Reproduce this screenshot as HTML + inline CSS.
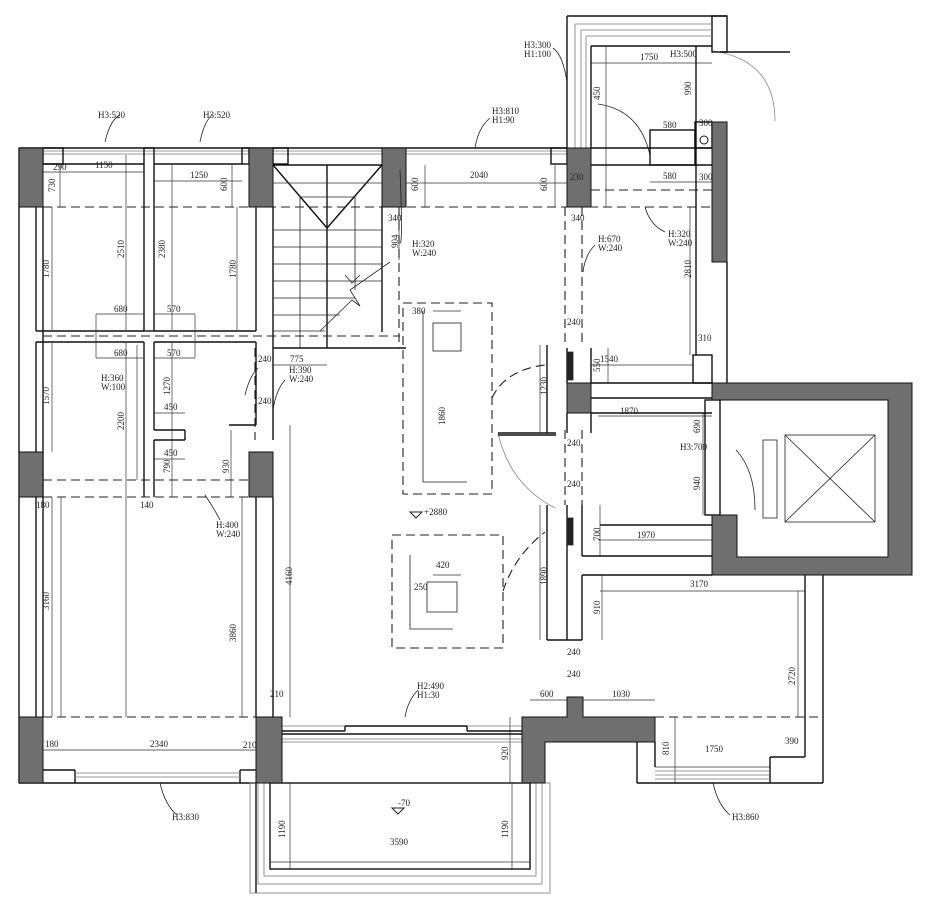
<!DOCTYPE html>
<html><head><meta charset="utf-8"><style>
html,body{margin:0;padding:0;background:#fff;}
svg{display:block;}
text{font-family:"Liberation Serif",serif;font-size:9px;fill:#222;}
.w{fill:none;stroke:#111;stroke-width:1.4}
.t{fill:none;stroke:#222;stroke-width:0.8}
.m{fill:none;stroke:#333;stroke-width:0.7}
.g{fill:none;stroke:#777;stroke-width:0.8}
.d{fill:none;stroke:#222;stroke-width:1.1;stroke-dasharray:9,5}
.c{fill:#6f6f6f;stroke:#111;stroke-width:1}
</style></head><body>
<svg width="930" height="909" viewBox="0 0 930 909" xmlns="http://www.w3.org/2000/svg">
<g class="g">
<line x1="43" y1="148" x2="567" y2="148"/><line x1="43" y1="151" x2="567" y2="151"/><line x1="43" y1="154" x2="567" y2="154"/>
</g>
<g class="w">
<line x1="19" y1="148" x2="19" y2="783"/>
<line x1="43" y1="207" x2="43" y2="717"/>
<line x1="19" y1="148" x2="567" y2="148"/>
<rect x="43" y="148" width="20" height="16"/>
<rect x="144" y="148" width="10" height="183"/>
<rect x="242" y="148" width="7" height="16"/>
<rect x="273" y="148" width="15" height="16"/>
<rect x="551" y="148" width="16" height="16"/>
<line x1="43" y1="164" x2="144" y2="164"/><line x1="154" y1="164" x2="242" y2="164"/>
<line x1="36" y1="207" x2="36" y2="331"/><line x1="144" y1="331" x2="36" y2="331"/>
<line x1="154" y1="331" x2="256" y2="331"/><line x1="256" y1="207" x2="256" y2="331"/>
<line x1="36" y1="342" x2="144" y2="342"/><line x1="154" y1="342" x2="256" y2="342"/>
<line x1="36" y1="342" x2="36" y2="452"/>
<line x1="144" y1="342" x2="144" y2="497"/><line x1="154" y1="342" x2="154" y2="430"/>
<line x1="154" y1="430" x2="185" y2="430"/><line x1="185" y1="430" x2="185" y2="440"/><line x1="154" y1="440" x2="185" y2="440"/>
<line x1="154" y1="440" x2="154" y2="497"/>
<line x1="256" y1="342" x2="256" y2="425"/><line x1="256" y1="425" x2="229" y2="425"/>
<line x1="273" y1="207" x2="273" y2="440"/>
<line x1="273" y1="497" x2="273" y2="717"/><line x1="256" y1="497" x2="256" y2="717"/>
<line x1="36" y1="497" x2="36" y2="717"/>
<line x1="43" y1="770" x2="75" y2="770"/><line x1="75" y1="770" x2="75" y2="783"/>
<line x1="240" y1="770" x2="256" y2="770"/><line x1="240" y1="770" x2="240" y2="783"/>
<line x1="19" y1="783" x2="256" y2="783"/>
<line x1="273" y1="165" x2="382" y2="165"/>
<line x1="273" y1="165" x2="327" y2="228"/><line x1="382" y1="165" x2="327" y2="228"/>
<line x1="327" y1="165" x2="327" y2="348"/>
<line x1="273" y1="348" x2="406" y2="348"/>
<line x1="382" y1="207" x2="382" y2="332"/>
</g>
<g class="t">
<line x1="300" y1="197" x2="355" y2="197"/><line x1="300" y1="197" x2="300" y2="348"/>
<line x1="273" y1="230" x2="382" y2="230"/><line x1="273" y1="247" x2="382" y2="247"/>
<line x1="273" y1="264" x2="382" y2="264"/><line x1="273" y1="281" x2="382" y2="281"/>
<line x1="273" y1="298" x2="355" y2="298"/><line x1="273" y1="315" x2="340" y2="315"/>
<line x1="273" y1="331" x2="325" y2="331"/>
<polyline points="320,331 352,300 360,306 350,290 390,262"/>
<polyline points="345,275 352,283 360,275"/>
<line x1="355" y1="197" x2="355" y2="290"/>
</g>
<!-- dimension lines -->
<g class="m">
<line x1="43" y1="172" x2="63" y2="172"/><line x1="63" y1="172" x2="144" y2="172"/>
<line x1="154" y1="181" x2="242" y2="181"/>
<line x1="126" y1="155" x2="126" y2="330"/><line x1="172" y1="165" x2="172" y2="330"/>
<line x1="52" y1="207" x2="52" y2="330"/><line x1="237" y1="207" x2="237" y2="330"/>
<line x1="60" y1="164" x2="60" y2="207"/><line x1="232" y1="164" x2="232" y2="207"/>
<line x1="96" y1="314" x2="144" y2="314"/><line x1="96" y1="314" x2="96" y2="358"/><line x1="96" y1="358" x2="144" y2="358"/>
<line x1="154" y1="314" x2="195" y2="314"/><line x1="195" y1="314" x2="195" y2="358"/><line x1="154" y1="358" x2="195" y2="358"/>
<line x1="126" y1="342" x2="126" y2="497"/><line x1="172" y1="342" x2="172" y2="497"/>
<line x1="52" y1="342" x2="52" y2="452"/><line x1="137" y1="345" x2="137" y2="480"/>
<line x1="154" y1="413" x2="185" y2="413"/><line x1="154" y1="459" x2="185" y2="459"/>
<line x1="231" y1="430" x2="231" y2="497"/><line x1="290" y1="425" x2="290" y2="717"/>
<line x1="52" y1="497" x2="52" y2="717"/><line x1="61" y1="497" x2="61" y2="717"/>
<line x1="242" y1="497" x2="242" y2="717"/><line x1="126" y1="497" x2="126" y2="717"/>
<line x1="43" y1="750" x2="256" y2="750"/>
<line x1="273" y1="365" x2="327" y2="365"/>
<line x1="273" y1="183" x2="382" y2="183"/>
<line x1="406" y1="183" x2="567" y2="183"/><line x1="406" y1="207" x2="406" y2="165"/>
<line x1="425" y1="165" x2="425" y2="207"/><line x1="555" y1="165" x2="555" y2="207"/>
<line x1="399" y1="213" x2="399" y2="260"/>
<line x1="591" y1="63" x2="712" y2="63"/><line x1="606" y1="46" x2="606" y2="207"/>
<line x1="650" y1="130" x2="696" y2="130"/><line x1="650" y1="182" x2="712" y2="182"/>
<line x1="690" y1="207" x2="690" y2="355"/>
<line x1="591" y1="365" x2="693" y2="365"/><line x1="608" y1="348" x2="608" y2="383"/>
<line x1="598" y1="416" x2="712" y2="416"/><line x1="598" y1="540" x2="712" y2="540"/>
<line x1="600" y1="591" x2="805" y2="591"/><line x1="602" y1="575" x2="602" y2="640"/>
<line x1="540" y1="345" x2="540" y2="433"/><line x1="540" y1="505" x2="540" y2="640"/>
<line x1="600" y1="505" x2="600" y2="556"/>
<line x1="703" y1="413" x2="703" y2="515"/>
<line x1="798" y1="591" x2="798" y2="717"/>
<line x1="530" y1="700" x2="655" y2="700"/>
<line x1="655" y1="767" x2="770" y2="767"/><line x1="675" y1="717" x2="675" y2="783"/>
<line x1="270" y1="862" x2="530" y2="862"/><line x1="290" y1="783" x2="290" y2="869"/><line x1="512" y1="783" x2="512" y2="869"/>
<line x1="510" y1="717" x2="510" y2="783"/>
<line x1="433" y1="311" x2="461" y2="311"/><line x1="433" y1="575" x2="461" y2="575"/>
</g>
<g class="d">
<line x1="43" y1="207" x2="712" y2="207"/>
<line x1="43" y1="336" x2="400" y2="336"/>
<line x1="255" y1="348" x2="255" y2="440"/>
<line x1="43" y1="480" x2="249" y2="480"/>
<line x1="43" y1="497" x2="249" y2="497"/>
<line x1="43" y1="717" x2="256" y2="717"/>
<line x1="655" y1="717" x2="823" y2="717"/>
<line x1="399" y1="207" x2="399" y2="348"/>
<line x1="565" y1="207" x2="565" y2="345"/><line x1="582" y1="207" x2="582" y2="345"/>
<line x1="565" y1="430" x2="565" y2="505"/><line x1="582" y1="430" x2="582" y2="505"/>
<line x1="591" y1="190" x2="712" y2="190"/>
<rect x="403" y="303" width="89" height="191"/>
<rect x="392" y="535" width="111" height="113"/>
<path d="M492,398 Q505,370 545,365"/>
<path d="M503,591 Q515,555 545,532"/>
</g>
<g class="t">
<polyline points="423,311 423,482 467,482"/>
<rect x="433" y="323" width="28" height="28"/>
<polyline points="410,555 410,629 453,629"/>
<rect x="427" y="582" width="30" height="30"/>
<path d="M498,433 Q510,485 555,508" stroke="#888"/>
<path d="M736,450 Q755,470 755,510" />
<path d="M713,51 Q775,60 775,121" stroke="#888"/>
<path d="M598,104 Q640,110 650,155"/>
</g>
<g class="w">
<line x1="498" y1="433" x2="556" y2="433"/><line x1="498" y1="435" x2="556" y2="435"/>
<line x1="720" y1="52" x2="790" y2="52"/>
</g>
<g class="w">
<line x1="567" y1="16" x2="567" y2="148"/>
<line x1="567" y1="16" x2="727" y2="16"/>
<rect x="712" y="16" width="15" height="36"/>
<line x1="727" y1="262" x2="727" y2="383"/>
<line x1="591" y1="46" x2="712" y2="46"/>
<line x1="591" y1="46" x2="591" y2="148"/>
<line x1="591" y1="165" x2="712" y2="165"/>
<line x1="591" y1="148" x2="712" y2="148"/>
<rect x="650" y="130" width="45" height="35"/>
<rect x="695" y="122" width="17" height="26"/>
<line x1="696" y1="46" x2="696" y2="355"/>
<rect x="693" y="355" width="19" height="28"/>
<line x1="591" y1="383" x2="712" y2="383"/>
<line x1="591" y1="348" x2="591" y2="383"/>
<line x1="567" y1="348" x2="567" y2="383"/>
<line x1="591" y1="398" x2="712" y2="398"/>
<line x1="591" y1="413" x2="712" y2="413"/>
<rect x="705" y="400" width="15" height="115"/>
<line x1="591" y1="413" x2="591" y2="433"/>
<line x1="567" y1="413" x2="567" y2="433"/>
<line x1="567" y1="505" x2="567" y2="640"/><line x1="582" y1="505" x2="582" y2="556"/>
<line x1="582" y1="556" x2="712" y2="556"/>
<line x1="600" y1="525" x2="712" y2="525"/>
<line x1="582" y1="575" x2="712" y2="575"/>
<line x1="582" y1="575" x2="582" y2="640"/>
<line x1="547" y1="640" x2="582" y2="640"/>
<line x1="547" y1="505" x2="547" y2="640"/>
<line x1="547" y1="345" x2="547" y2="433"/>
<line x1="805" y1="575" x2="805" y2="757"/><line x1="823" y1="575" x2="823" y2="783"/>
<line x1="637" y1="742" x2="637" y2="783"/><line x1="637" y1="783" x2="823" y2="783"/>
<line x1="655" y1="742" x2="655" y2="767"/><line x1="770" y1="757" x2="805" y2="757"/><line x1="770" y1="757" x2="770" y2="783"/>
</g>
<g class="g">
<line x1="575" y1="24" x2="712" y2="24"/><line x1="575" y1="24" x2="575" y2="148"/>
<line x1="581" y1="30" x2="712" y2="30"/><line x1="581" y1="30" x2="581" y2="148"/>
<line x1="586" y1="36" x2="712" y2="36"/><line x1="586" y1="36" x2="586" y2="148"/>
<line x1="655" y1="771" x2="770" y2="771"/><line x1="655" y1="775" x2="770" y2="775"/><line x1="655" y1="779" x2="770" y2="779"/>
<line x1="75" y1="773" x2="240" y2="773"/><line x1="75" y1="777" x2="240" y2="777"/>
<line x1="282" y1="726" x2="522" y2="726"/><line x1="282" y1="739" x2="522" y2="739"/><line x1="282" y1="742" x2="522" y2="742"/>
</g>
<circle cx="704" cy="140" r="4" fill="none" stroke="#111"/>
<g class="w">
<line x1="282" y1="731" x2="345" y2="731"/><line x1="345" y1="731" x2="345" y2="726"/><line x1="345" y1="726" x2="467" y2="726"/><line x1="467" y1="726" x2="467" y2="731"/><line x1="467" y1="731" x2="522" y2="731"/>
<line x1="282" y1="734" x2="522" y2="734"/>
<line x1="256" y1="783" x2="256" y2="893"/>
</g>
<g class="g">
<rect x="250" y="783" width="300" height="110"/>
<rect x="258" y="783" width="284" height="101"/>
<rect x="264" y="783" width="272" height="93"/>
</g>
<g class="w"><rect x="270" y="783" width="260" height="86"/></g>
<g class="c">
<rect x="19" y="148" width="24" height="59"/>
<rect x="249" y="148" width="24" height="59"/>
<rect x="382" y="148" width="24" height="59"/>
<rect x="567" y="148" width="24" height="59"/>
<rect x="712" y="122" width="15" height="140"/>
<rect x="19" y="452" width="24" height="45"/>
<rect x="249" y="452" width="24" height="45"/>
<rect x="567" y="383" width="24" height="30"/>
<rect x="19" y="717" width="24" height="66"/>
<rect x="256" y="717" width="26" height="66"/>
<path d="M522,717 L567,717 L567,697 L583,697 L583,717 L655,717 L655,742 L545,742 L545,783 L522,783 Z"/>
<path d="M712,383 L912,383 L912,575 L712,575 L712,515 L737,515 L737,557 L888,557 L888,400 L720,400 L712,400 Z"/>
</g>
<g class="t">
<rect x="785" y="435" width="90" height="87"/>
<line x1="785" y1="435" x2="875" y2="522"/><line x1="875" y1="435" x2="785" y2="522"/>
<rect x="763" y="440" width="14" height="78"/>
<polygon points="567,352 573,352 573,380 567,380" fill="#222"/>
<polygon points="567,518 573,518 573,545 567,545" fill="#222"/>
</g>
<g class="t">
<path d="M105,142 Q110,120 120,115"/><path d="M200,142 Q204,122 212,115"/>
<path d="M475,148 Q478,128 490,118"/><path d="M567,82 Q563,55 553,48"/>
<path d="M405,717 Q408,700 418,690"/><path d="M160,783 Q165,805 177,815"/>
<path d="M713,783 Q718,805 730,815"/><path d="M205,495 Q215,510 220,520"/>
<path d="M245,395 Q250,375 258,368"/><path d="M273,410 Q276,390 285,380"/>
<path d="M400,170 Q403,245 400,243"/><path d="M645,207 Q650,225 665,232"/>
<path d="M583,272 Q585,255 595,245"/>
</g>
<g>
<text x="98" y="118">H3:520</text><text x="203" y="118">H3:520</text>
<text x="492" y="114">H3:810</text><text x="492" y="123">H1:90</text>
<text x="524" y="48">H3:300</text><text x="524" y="57">H1:100</text>
<text x="670" y="57">H3:500</text>
<text x="53" y="170">290</text><text x="95" y="168">1150</text><text x="190" y="178">1250</text>
<text x="470" y="178">2040</text><text x="640" y="60">1750</text>
<text x="663" y="128">580</text><text x="663" y="179">580</text><text x="699" y="180">300</text>
<text x="699" y="126">300</text>
<text x="570" y="180">230</text><text x="571" y="221">340</text><text x="388" y="221">340</text>
<text x="412" y="247">H:320</text><text x="412" y="256">W:240</text>
<text x="668" y="237">H:320</text><text x="668" y="246">W:240</text>
<text x="598" y="242">H:670</text><text x="598" y="251">W:240</text>
<text x="114" y="312">680</text><text x="167" y="312">570</text>
<text x="114" y="356">680</text><text x="167" y="356">570</text>
<text x="101" y="381">H:360</text><text x="101" y="390">W:100</text>
<text x="290" y="362">775</text>
<text x="289" y="373">H:390</text><text x="289" y="382">W:240</text>
<text x="164" y="410">450</text><text x="164" y="456">450</text>
<text x="258" y="362">240</text><text x="258" y="404">240</text>
<text x="216" y="528">H:400</text><text x="216" y="537">W:240</text>
<text x="412" y="314">380</text><text x="424" y="515">+2880</text>
<text x="436" y="568">420</text><text x="414" y="590">250</text>
<text x="567" y="325">240</text><text x="600" y="362">1540</text><text x="698" y="341">310</text>
<text x="620" y="414">1870</text><text x="680" y="450">H3:700</text>
<text x="567" y="446">240</text><text x="567" y="487">240</text>
<text x="637" y="538">1970</text><text x="690" y="587">3170</text>
<text x="567" y="655">240</text><text x="567" y="677">240</text>
<text x="417" y="689">H2:490</text><text x="417" y="698">H1:30</text>
<text x="540" y="697">600</text><text x="612" y="697">1030</text>
<text x="270" y="697">210</text><text x="243" y="748">210</text>
<text x="150" y="747">2340</text><text x="45" y="747">180</text>
<text x="705" y="752">1750</text><text x="785" y="744">390</text>
<text x="390" y="845">3590</text><text x="398" y="806">-70</text>
<text x="172" y="820">H3:830</text><text x="732" y="820">H3:860</text>
<text x="36" y="508">180</text><text x="140" y="508">140</text>
</g>
<g>
<text transform="translate(124,258) rotate(-90)">2510</text>
<text transform="translate(165,258) rotate(-90)">2380</text>
<text transform="translate(49,278) rotate(-90)">1780</text>
<text transform="translate(236,278) rotate(-90)">1780</text>
<text transform="translate(49,405) rotate(-90)">1570</text>
<text transform="translate(124,430) rotate(-90)">2200</text>
<text transform="translate(170,395) rotate(-90)">1270</text>
<text transform="translate(229,473) rotate(-90)">930</text>
<text transform="translate(170,473) rotate(-90)">790</text>
<text transform="translate(49,610) rotate(-90)">3160</text>
<text transform="translate(236,642) rotate(-90)">3860</text>
<text transform="translate(292,585) rotate(-90)">4160</text>
<text transform="translate(227,191) rotate(-90)">600</text>
<text transform="translate(418,191) rotate(-90)">600</text>
<text transform="translate(547,191) rotate(-90)">600</text>
<text transform="translate(398,248) rotate(-90)">904</text>
<text transform="translate(445,425) rotate(-90)">1860</text>
<text transform="translate(547,395) rotate(-90)">1230</text>
<text transform="translate(547,585) rotate(-90)">1890</text>
<text transform="translate(600,100) rotate(-90)">450</text>
<text transform="translate(691,95) rotate(-90)">990</text>
<text transform="translate(691,278) rotate(-90)">2810</text>
<text transform="translate(600,372) rotate(-90)">550</text>
<text transform="translate(700,433) rotate(-90)">690</text>
<text transform="translate(700,490) rotate(-90)">940</text>
<text transform="translate(600,541) rotate(-90)">700</text>
<text transform="translate(600,614) rotate(-90)">910</text>
<text transform="translate(795,685) rotate(-90)">2720</text>
<text transform="translate(508,760) rotate(-90)">920</text>
<text transform="translate(285,838) rotate(-90)">1190</text>
<text transform="translate(508,838) rotate(-90)">1190</text>
<text transform="translate(669,755) rotate(-90)">810</text>
<text transform="translate(55,192) rotate(-90)">730</text>
</g>
<polygon points="410,512 422,512 416,518" fill="none" stroke="#222"/>
<polygon points="392,808 404,808 398,814" fill="none" stroke="#222"/>
</svg>
</body></html>
